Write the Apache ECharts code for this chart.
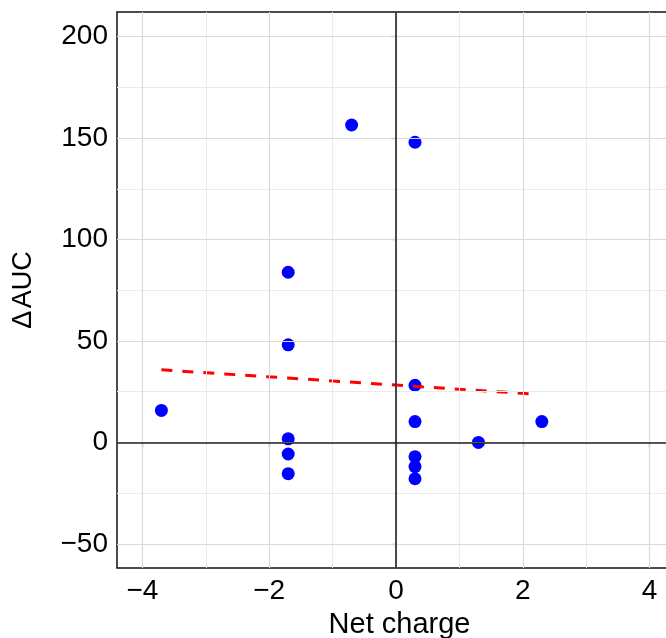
<!DOCTYPE html>
<html>
<head>
<meta charset="utf-8">
<script src="https://cdn.jsdelivr.net/npm/echarts@6/dist/echarts.min.js"></script>
<style>
  html, body { margin: 0; padding: 0; background: #fff; overflow: hidden; }
  #myChart { width: 666px; height: 638px; }
</style>
</head>
<body>
<div id="myChart"></div>
<script>
// data
const netCharge = [-3.7, -1.7, -1.7, -1.7, -1.7, -1.7, -0.7, 0.3, 0.3, 0.3, 0.3, 0.3, 0.3, 1.3, 2.3];
const deltaAUC = [15.8, 83.9, 48.1, 1.8, -5.7, -15.4, 156.5, 148, 28.2, 10.3, -7, -11.9, -17.9, 0, 10.3];
const trendX = [-3.7, 2.2];
const trendY = [35.8, 23.8];

const xTicks = [-4, -2, 0, 2, 4];
const xMinor = [-3, -1, 1, 3];
const yTicks = [-50, 0, 50, 100, 150, 200];
const yMinor = [-25, 25, 75, 125, 175];

const fontFamily = '"Liberation Sans", Arial, sans-serif';
const fmt = v => (v < 0 ? '\u2212' + Math.abs(v) : String(v));

let chartDom = document.getElementById('myChart');
let myChart = echarts.init(chartDom);

// grid lines as markLines so they stay on the round values
let gridLines = [];
xMinor.forEach(v => gridLines.push({ xAxis: v, lineStyle: { color: '#ebebeb', width: 1, type: 'solid' } }));
yMinor.forEach(v => gridLines.push({ yAxis: v, lineStyle: { color: '#ebebeb', width: 1, type: 'solid' } }));
xTicks.forEach(v => gridLines.push({ xAxis: v, lineStyle: { color: '#d9d9d9', width: 1.2, type: 'solid' } }));
yTicks.forEach(v => gridLines.push({ yAxis: v, lineStyle: { color: '#d9d9d9', width: 1.2, type: 'solid' } }));
// zero lines
let zeroLines = [
    { xAxis: 0, lineStyle: { color: '#222', width: 1.6, type: 'solid' } },
    { yAxis: 0, lineStyle: { color: '#222', width: 1.6, type: 'solid' } }
];

let option = {
    animation: false,
    grid: {
        left: 117, right: -2, top: 12, bottom: 70,
        outerBoundsMode: 'none',
        containLabel: false,
        show: true,
        borderColor: '#111',
        borderWidth: 1.5,
        backgroundColor: '#fff'
    },
    xAxis: {
        type: 'value',
        min: -4.40,
        max: 4.29,
        name: 'Net charge',
        nameLocation: 'middle',
        nameGap: 42,
        nameTextStyle: { fontFamily: fontFamily, fontSize: 29, color: '#000', padding: [0, 0, 0, 14] },
        axisLine: { show: false },
        axisTick: { show: true, customValues: xTicks, length: 5, lineStyle: { color: '#333', width: 1.2 } },
        axisLabel: {
            customValues: xTicks,
            formatter: fmt,
            fontFamily: fontFamily, fontSize: 28, color: '#000', margin: 9
        },
        splitLine: { show: false }
    },
    yAxis: {
        type: 'value',
        min: -61.9,
        max: 212.2,
        name: 'Δ\u200aAUC',
        nameLocation: 'middle',
        nameRotate: 90,
        nameGap: 80,
        nameTextStyle: { fontFamily: fontFamily, fontSize: 27, color: '#000' },
        axisLine: { show: false },
        axisTick: { show: true, customValues: yTicks, length: 5, lineStyle: { color: '#333', width: 1.2 } },
        axisLabel: {
            customValues: yTicks,
            formatter: fmt,
            fontFamily: fontFamily, fontSize: 28, color: '#000', margin: 9
        },
        splitLine: { show: false }
    },
    series: [
        {
            type: 'line',
            z: 1,
            data: [],
            silent: true,
            markLine: {
                silent: true,
                symbol: ['none', 'none'],
                label: { show: false },
                animation: false,
                data: gridLines
            }
        },
        {
            type: 'line',
            z: 2,
            data: [],
            silent: true,
            markLine: {
                silent: true,
                symbol: ['none', 'none'],
                label: { show: false },
                animation: false,
                data: zeroLines
            }
        },
        {
            type: 'scatter',
            z: 3,
            symbolSize: 13,
            itemStyle: { color: '#0000ff', opacity: 1 },
            data: netCharge.map((x, i) => [x, deltaAUC[i]])
        },
        {
            type: 'line',
            z: 4,
            showSymbol: false,
            symbol: 'none',
            lineStyle: { color: '#ff0000', width: 3, type: [11, 10] },
            data: trendX.map((x, i) => [x, trendY[i]])
        }
    ]
};

option && myChart.setOption(option);
</script>
</body>
</html>
